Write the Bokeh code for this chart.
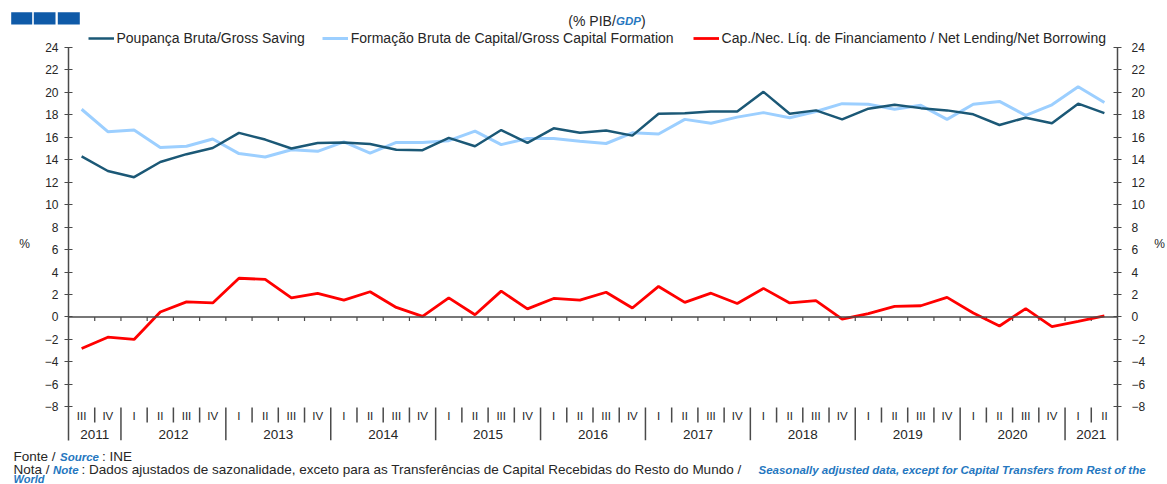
from bokeh.plotting import figure
from bokeh.models import (Range1d, LinearAxis, FixedTicker, Legend, LegendItem, Span)
from bokeh.embed import file_html
from bokeh.resources import INLINE
from bokeh.core.properties import value

# ---------------- data ----------------
quarters = ["III", "IV"] + ["I", "II", "III", "IV"] * 9 + ["I", "II"]
years = ["2011", "2012", "2013", "2014", "2015", "2016", "2017", "2018", "2019", "2020", "2021"]
quarter_year = ["2011"] * 2 + [y for y in years[1:-1] for _ in range(4)] + ["2021"] * 2

gross_saving = [14.3, 13.0, 12.45, 13.8, 14.5, 15.05, 16.4, 15.8, 15.0, 15.5,
                15.55, 15.4, 14.9, 14.85, 15.95, 15.2, 16.65, 15.5, 16.8, 16.4,
                16.6, 16.15, 18.1, 18.15, 18.3, 18.3, 20.05, 18.1, 18.4, 17.6,
                18.55, 18.9, 18.6, 18.4, 18.05, 17.1, 17.75, 17.25, 19.0, 18.15]
capital_formation = [18.5, 16.5, 16.65, 15.1, 15.2, 15.85, 14.55, 14.25, 14.9, 14.75,
                     15.6, 14.6, 15.55, 15.55, 15.7, 16.55, 15.35, 15.9, 15.9, 15.65,
                     15.45, 16.4, 16.3, 17.6, 17.25, 17.8, 18.2, 17.75, 18.3, 19.0,
                     18.95, 18.5, 18.85, 17.6, 18.95, 19.2, 17.95, 18.9, 20.5, 19.1]
net_lending = [-2.8, -1.8, -2.0, 0.45, 1.35, 1.25, 3.45, 3.35, 1.7, 2.1,
               1.5, 2.25, 0.85, 0.05, 1.7, 0.2, 2.3, 0.72, 1.65, 1.5,
               2.2, 0.8, 2.72, 1.3, 2.12, 1.2, 2.55, 1.25, 1.45, -0.2,
               0.3, 0.95, 1.0, 1.75, 0.35, -0.8, 0.75, -0.85, -0.4, 0.1]
y_ticks = [-8, -6, -4, -2, 0, 2, 4, 6, 8, 10, 12, 14, 16, 18, 20, 22, 24]

legend_labels = ["Poupança Bruta/Gross Saving",
                 "Formação Bruta de Capital/Gross Capital Formation",
                 "Cap./Nec. Líq. de Financiamento / Net Lending/Net Borrowing"]

# ---------------- style ----------------
DARK = "#1B5876"
LIGHT = "#9CCFFF"
RED = "#FF0000"
AXIS = "#4A4A4A"
TXT = "#262626"
BLUE = "#2577C0"
LOGO = "#0F5AA8"
FONT = "Liberation Sans"
W, H = 1167, 484
series_styles = [(DARK, 2.5), (LIGHT, 3), (RED, 2.8)]

def pinned(z):
    return {"position": "absolute", "top": "0px", "left": "0px", "z-index": str(z)}

# ---------------- main chart ----------------
n = len(quarters)
xs = list(range(n))

p = figure(width=W, height=H, output_backend="svg", toolbar_location=None,
           x_range=Range1d(-0.5, n - 0.5), y_range=Range1d(-11, 24),
           x_axis_location=None, min_border_left=68, min_border_right=45,
           min_border_top=47, min_border_bottom=44, outline_line_color=None,
           background_fill_alpha=0, border_fill_alpha=0, styles=pinned(1))
p.grid.visible = False

p.add_layout(LinearAxis(), "right")
for ax in p.yaxis:
    ax.ticker = FixedTicker(ticks=y_ticks)
    ax.major_tick_in = 4
    ax.major_tick_out = 4
    ax.minor_tick_in = 0
    ax.minor_tick_out = 0
    ax.axis_line_color = AXIS
    ax.axis_line_width = 1.5
    ax.major_tick_line_color = AXIS
    ax.major_tick_line_width = 1.2
    ax.major_label_text_font = FONT
    ax.major_label_text_font_size = "12px"
    ax.major_label_text_color = TXT
    ax.axis_label = "%"
    ax.axis_label_orientation = "horizontal"
    ax.axis_label_text_font = FONT
    ax.axis_label_text_font_size = "12px"
    ax.axis_label_text_font_style = "normal"
    ax.axis_label_text_color = TXT
p.yaxis[0].major_label_standoff = 6
p.yaxis[0].axis_label_standoff = 12
p.yaxis[1].major_label_standoff = 10
p.yaxis[1].axis_label_standoff = 6

# zero line
p.add_layout(Span(location=0, dimension="width", line_color=AXIS, line_width=1.5))

# category boundaries
bounds = [i + 0.5 for i in range(n - 1)]
year_bounds = [b for i, b in enumerate(bounds) if quarters[i + 1] == "I"]
q_bounds = [b for i, b in enumerate(bounds) if quarters[i + 1] != "I"]
p.segment(x0=bounds, y0=[0] * len(bounds), x1=bounds, y1=[-0.36] * len(bounds),
          line_color=AXIS, line_width=1.2)
p.segment(x0=q_bounds, y0=[-8.06] * len(q_bounds), x1=q_bounds, y1=[-9.4] * len(q_bounds),
          line_color=AXIS, line_width=1.5)
p.segment(x0=year_bounds, y0=[-8.06] * len(year_bounds), x1=year_bounds,
          y1=[-11] * len(year_bounds), line_color=AXIS, line_width=1.5)

# category labels
p.text(x=xs, y=[-8.86] * n, text=quarters, text_align="center", text_baseline="middle",
       text_font=value(FONT), text_font_size="11.5px", text_color=TXT)
year_x = [sum(i for i in xs if quarter_year[i] == y) / quarter_year.count(y) for y in years]
p.text(x=year_x, y=[-10.45] * len(years), text=years, text_align="center",
       text_baseline="middle", text_font=value(FONT), text_font_size="13.5px", text_color=TXT)

# series
p.line(xs, capital_formation, line_color=series_styles[1][0], line_width=series_styles[1][1])
p.line(xs, gross_saving, line_color=series_styles[0][0], line_width=series_styles[0][1])
p.line(xs, net_lending, line_color=series_styles[2][0], line_width=series_styles[2][1])

# ---------------- overlay: logo, title, legend, source notes (page pixel coordinates) ----------------
ov = figure(width=W, height=H, output_backend="svg", toolbar_location=None,
            x_range=Range1d(0, W), y_range=Range1d(H, 0),
            x_axis_location=None, y_axis_location=None, min_border=0,
            outline_line_color=None, background_fill_alpha=0, border_fill_alpha=0,
            styles=pinned(5))
ov.grid.visible = False

ov.quad(left=[10.7, 33.3, 57.3], right=[31.7, 55.0, 79.3], top=[11.7] * 3, bottom=[24] * 3,
        fill_color=LOGO, line_color=None)

# legend keys: off-canvas proxy lines carrying the series' line styles
for (col, lw), lab, lx in zip(series_styles, legend_labels, [87.5, 321.7, 692.6]):
    key = ov.line(x=[-100, -90], y=[-100, -100], line_color=col, line_width=lw)
    ov.add_layout(Legend(items=[LegendItem(label=lab, renderers=[key], index=0)],
                         location=(lx, H - 28 - 20), orientation="horizontal",
                         padding=0, margin=0, spacing=0, glyph_width=26, glyph_height=20,
                         label_height=20, label_standoff=3, label_text_font=FONT,
                         label_text_font_size="14px", label_text_color=TXT,
                         border_line_color=None, background_fill_alpha=0))

def otext(x, y, t, size, color=TXT, style="normal", align="left"):
    ov.text(x=[x], y=[y], text=[t], text_align=align, text_baseline="middle",
            text_font=value(FONT), text_font_size=size, text_color=color,
            text_font_style=style)

otext(615.3, 20, "(% PIB/", "14px", align="right")
otext(615.5, 20, "GDP", "11.5px", color=BLUE, style="bold italic")
otext(640.5, 20, ")", "14px")

otext(13, 456, "Fonte / ", "13.5px")
otext(59.5, 456, "Source", "11.5px", color=BLUE, style="bold italic")
otext(101.5, 456, ":  INE", "13.5px")
otext(13, 469, "Nota / ", "13.5px")
otext(52.5, 469, "Note", "11.5px", color=BLUE, style="bold italic")
otext(81, 469,
      ": Dados ajustados de sazonalidade, exceto para as Transferências de Capital Recebidas do Resto do Mundo / ",
      "13.5px")
otext(758, 469, "Seasonally adjusted data, except for Capital Transfers from Rest of the",
      "11.5px", color=BLUE, style="bold italic")
otext(13, 478.5, "World", "11px", color=BLUE, style="bold italic")

open("out.html", "w").write(file_html([p, ov], INLINE))
